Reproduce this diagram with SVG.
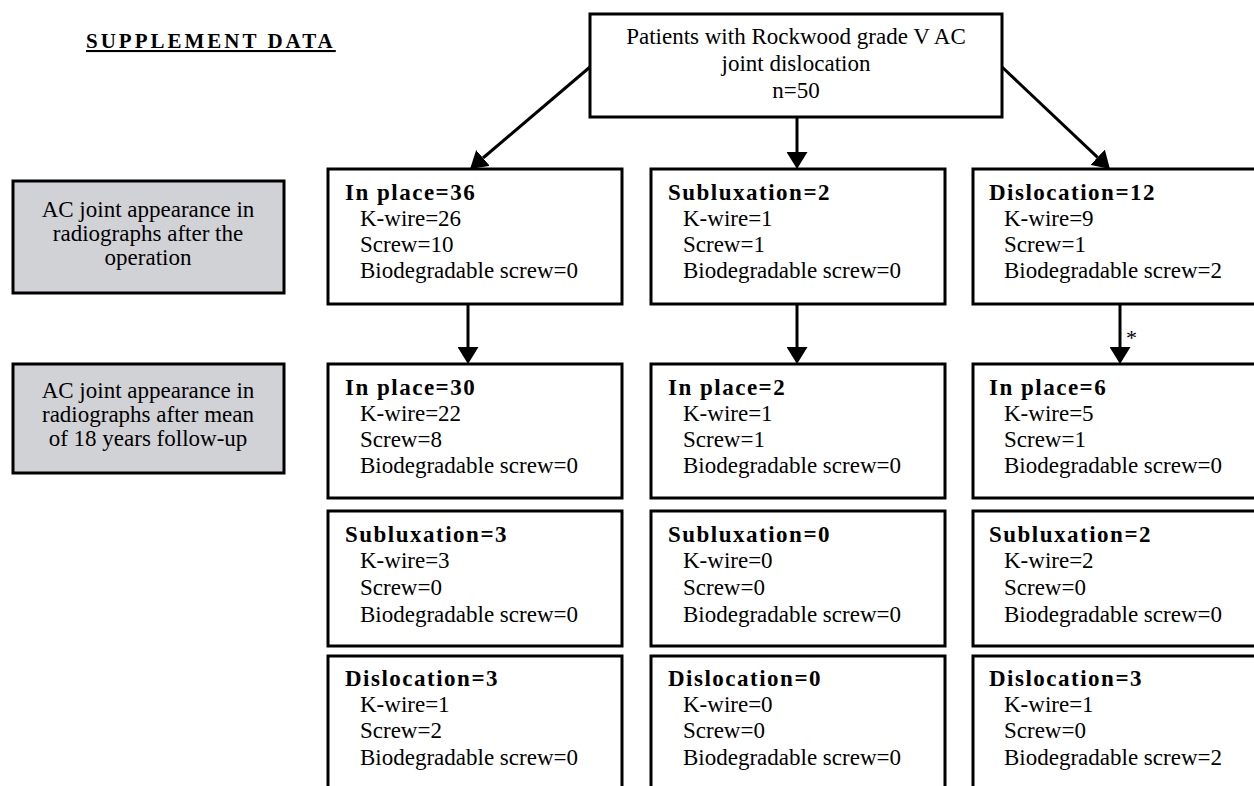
<svg xmlns="http://www.w3.org/2000/svg" width="1254" height="786" viewBox="0 0 1254 786">
<style>
.box{fill:#fff;stroke:#000;stroke-width:3}
.gray{fill:#d1d2d6;stroke:#000;stroke-width:3}
.t{font-family:"Liberation Serif","Times New Roman",serif;font-size:23px;fill:#000}
.h{font-weight:bold;letter-spacing:1.5px}
.c{text-anchor:middle}
.ln{stroke:#000;stroke-width:3;fill:none}
</style>
<defs>
<marker id="ah" markerUnits="userSpaceOnUse" markerWidth="17" markerHeight="21" viewBox="0 0 17 21" refX="0" refY="10.5" orient="auto">
<path d="M0,0 L17,10.5 L0,21 z" fill="#000"/>
</marker>
</defs>
<rect width="1254" height="786" fill="#fff"/>
<text id="title" x="86" y="48" class="t h" style="font-size:21px;letter-spacing:3px" text-decoration="underline">SUPPLEMENT DATA</text>

<g id="top">
<rect class="box" x="590" y="14" width="412" height="103"/>
<text class="t c" x="796" y="44">Patients with Rockwood grade V AC</text>
<text class="t c" x="796" y="71">joint dislocation</text>
<text class="t c" x="796" y="98">n=50</text>
</g>

<g id="label1">
<rect class="gray" x="13" y="181" width="271" height="112"/>
<text class="t c" x="148" y="217">AC joint appearance in</text>
<text class="t c" x="148" y="241">radiographs after the</text>
<text class="t c" x="148" y="265">operation</text>
</g>
<g id="label2">
<rect class="gray" x="13" y="364" width="271" height="109"/>
<text class="t c" x="148" y="398">AC joint appearance in</text>
<text class="t c" x="148" y="422">radiographs after mean</text>
<text class="t c" x="148" y="446">of 18 years follow-up</text>
</g>

<g id="r1c1">
<rect class="box" x="328" y="169" width="294" height="135"/>
<text class="t h" x="345" y="200">In place=36</text>
<text class="t" x="360" y="226">K-wire=26</text>
<text class="t" x="360" y="252">Screw=10</text>
<text class="t" x="360" y="278">Biodegradable screw=0</text>
</g>
<g id="r1c2">
<rect class="box" x="651" y="169" width="294" height="135"/>
<text class="t h" x="668" y="200">Subluxation=2</text>
<text class="t" x="683" y="226">K-wire=1</text>
<text class="t" x="683" y="252">Screw=1</text>
<text class="t" x="683" y="278">Biodegradable screw=0</text>
</g>
<g id="r1c3">
<rect class="box" x="973" y="169" width="294" height="135"/>
<text class="t h" x="989" y="200">Dislocation=12</text>
<text class="t" x="1004" y="226">K-wire=9</text>
<text class="t" x="1004" y="252">Screw=1</text>
<text class="t" x="1004" y="278">Biodegradable screw=2</text>
</g>

<g id="r2c1">
<rect class="box" x="328" y="364" width="294" height="134"/>
<text class="t h" x="345" y="395">In place=30</text>
<text class="t" x="360" y="421">K-wire=22</text>
<text class="t" x="360" y="447">Screw=8</text>
<text class="t" x="360" y="473">Biodegradable screw=0</text>
</g>
<g id="r2c2">
<rect class="box" x="651" y="364" width="294" height="134"/>
<text class="t h" x="668" y="395">In place=2</text>
<text class="t" x="683" y="421">K-wire=1</text>
<text class="t" x="683" y="447">Screw=1</text>
<text class="t" x="683" y="473">Biodegradable screw=0</text>
</g>
<g id="r2c3">
<rect class="box" x="973" y="364" width="294" height="134"/>
<text class="t h" x="989" y="395">In place=6</text>
<text class="t" x="1004" y="421">K-wire=5</text>
<text class="t" x="1004" y="447">Screw=1</text>
<text class="t" x="1004" y="473">Biodegradable screw=0</text>
</g>

<g id="r3c1">
<rect class="box" x="328" y="511" width="294" height="135"/>
<text class="t h" x="345" y="542">Subluxation=3</text>
<text class="t" x="360" y="568">K-wire=3</text>
<text class="t" x="360" y="595">Screw=0</text>
<text class="t" x="360" y="622">Biodegradable screw=0</text>
</g>
<g id="r3c2">
<rect class="box" x="651" y="511" width="294" height="135"/>
<text class="t h" x="668" y="542">Subluxation=0</text>
<text class="t" x="683" y="568">K-wire=0</text>
<text class="t" x="683" y="595">Screw=0</text>
<text class="t" x="683" y="622">Biodegradable screw=0</text>
</g>
<g id="r3c3">
<rect class="box" x="973" y="511" width="294" height="135"/>
<text class="t h" x="989" y="542">Subluxation=2</text>
<text class="t" x="1004" y="568">K-wire=2</text>
<text class="t" x="1004" y="595">Screw=0</text>
<text class="t" x="1004" y="622">Biodegradable screw=0</text>
</g>

<g id="r4c1">
<rect class="box" x="328" y="656" width="294" height="145"/>
<text class="t h" x="345" y="686">Dislocation=3</text>
<text class="t" x="360" y="712">K-wire=1</text>
<text class="t" x="360" y="738">Screw=2</text>
<text class="t" x="360" y="765">Biodegradable screw=0</text>
</g>
<g id="r4c2">
<rect class="box" x="651" y="656" width="294" height="145"/>
<text class="t h" x="668" y="686">Dislocation=0</text>
<text class="t" x="683" y="712">K-wire=0</text>
<text class="t" x="683" y="738">Screw=0</text>
<text class="t" x="683" y="765">Biodegradable screw=0</text>
</g>
<g id="r4c3">
<rect class="box" x="973" y="656" width="294" height="145"/>
<text class="t h" x="989" y="686">Dislocation=3</text>
<text class="t" x="1004" y="712">K-wire=1</text>
<text class="t" x="1004" y="738">Screw=0</text>
<text class="t" x="1004" y="765">Biodegradable screw=2</text>
</g>

<g id="connectors">
<path class="ln" d="M590,67 L483,158" marker-end="url(#ah)"/>
<path class="ln" d="M797,117 L797,152" marker-end="url(#ah)"/>
<path class="ln" d="M1002,67 L1097.6,157.3" marker-end="url(#ah)"/>
<path class="ln" d="M468,304 L468,347" marker-end="url(#ah)"/>
<path class="ln" d="M797,304 L797,347" marker-end="url(#ah)"/>
<path class="ln" d="M1120,304 L1120,347" marker-end="url(#ah)"/>
<text class="t" x="1126" y="345" style="font-size:22px">*</text>
</g>
</svg>
